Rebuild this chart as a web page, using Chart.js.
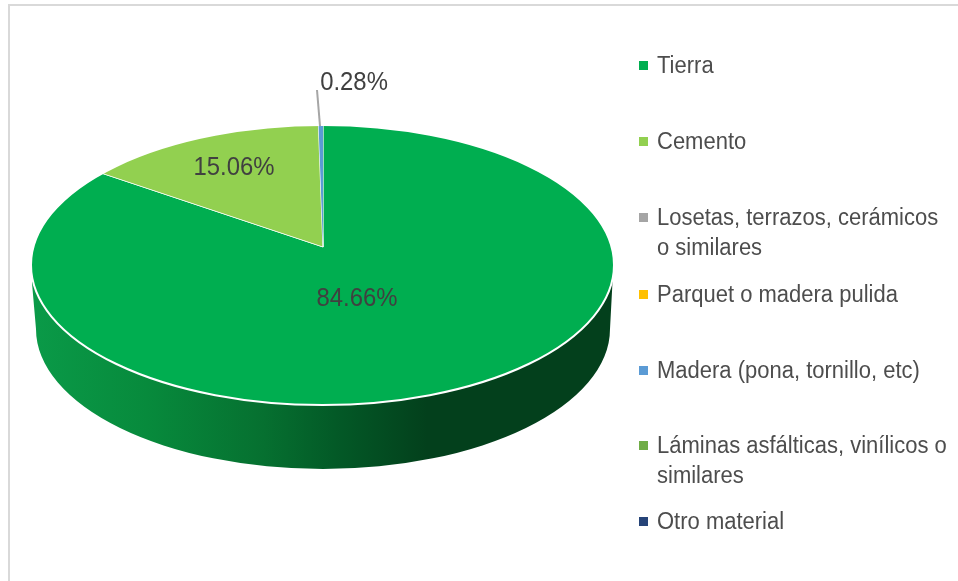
<!DOCTYPE html>
<html>
<head>
<meta charset="utf-8">
<script src="https://cdn.jsdelivr.net/npm/chart.js@4"></script>
<style>
  html, body { margin: 0; padding: 0; background: #fff; overflow: hidden; }
  #page { position: relative; width: 958px; height: 581px; filter: blur(0.4px); }
  #frameTop { position: absolute; left: 8px; right: 0; top: 4px; height: 2px; background: #d9d9d9; }
  #frameLeft { position: absolute; left: 8px; top: 4px; bottom: 0; width: 2px; background: #d9d9d9; }
  #pieChart { position: absolute; left: 0; top: 0; }
  .item { position: absolute; left: 657px; font: 23.5px/30px "Liberation Sans", Arial, sans-serif; color: #4d4d4d; }
  .item .txt { display: block; width: 312px; transform: scaleX(0.936); transform-origin: 0 0; }
  .swatch { position: absolute; left: -18px; top: 11px; width: 9px; height: 9px; }
</style>
</head>
<body>
<div id="page">
  <div id="frameTop"></div>
  <div id="frameLeft"></div>
  <canvas id="pieChart" width="958" height="581"></canvas>
  <div id="legend"></div>
</div>
<script>
const categories = ["Tierra", "Cemento", "Losetas, terrazos, cerámicos o similares", "Parquet o madera pulida", "Madera (pona, tornillo, etc)", "Láminas asfálticas, vinílicos o similares", "Otro material"];
const percents = [84.66, 15.06, 0, 0, 0.28, 0, 0];
const sliceColors = ["#00ae50", "#92d050", "#a5a5a5", "#ffc000", "#5b9bd5", "#70ad47", "#264478"];

// top of each legend entry, the original spacing is not regular
const legendTops = [50, 126, 202, 279, 355, 430, 506];
// where the percent labels sit: Tierra, Cemento, Madera
const labelSpots = { 0: [357, 299], 1: [234, 168], 4: [354, 83] };

// the disc is an ellipse and the slices meet above its centre
const disc = { x: 322.5, y: 265, rx: 291.5, ry: 140 };
const tip = { x: 323, y: 247 };
const squash = { x: 1.2, y: 0.576 };
const rim = { x: 323, y: 329, rx: 287, ry: 140 };

const legendBox = document.getElementById('legend');
categories.forEach((name, i) => {
  let item = document.createElement('div');
  item.className = 'item';
  item.style.top = legendTops[i] + 'px';
  item.innerHTML = `<span class="swatch" style="background:${sliceColors[i]}"></span><span class="txt">${name}</span>`;
  legendBox.appendChild(item);
});

const tiltPlugin = {
  id: 'tilt',
  beforeDatasetsDraw(chart) {
    const ctx = chart.ctx;
    const first = chart.getDatasetMeta(0).data[0];

    // side wall
    let wall = ctx.createLinearGradient(disc.x - disc.rx, 0, disc.x + disc.rx, 0);
    wall.addColorStop(0, '#0a9a48');
    wall.addColorStop(0.2, '#078a3c');
    wall.addColorStop(0.4, '#067030');
    wall.addColorStop(0.52, '#035a27');
    wall.addColorStop(0.68, '#03401c');
    wall.addColorStop(1, '#03401c');
    ctx.save();
    ctx.beginPath();
    ctx.ellipse(rim.x, rim.y, rim.rx, rim.ry, 0, 0, Math.PI);
    ctx.lineTo(disc.x - disc.rx + 1, disc.y + 18);
    ctx.ellipse(disc.x, disc.y, disc.rx, disc.ry, 0, Math.PI * 0.97, Math.PI * 0.03, true);
    ctx.closePath();
    ctx.fillStyle = wall;
    ctx.fill();
    ctx.restore();

    // slices are drawn squashed and cut to the disc
    ctx.save();
    ctx.beginPath();
    ctx.ellipse(disc.x, disc.y, disc.rx, disc.ry, 0, 0, Math.PI * 2);
    ctx.clip();
    ctx.translate(tip.x, tip.y);
    ctx.scale(squash.x, squash.y);
    ctx.translate(-first.x, -first.y);
  },
  afterDatasetsDraw(chart) {
    const ctx = chart.ctx;
    ctx.restore();

    ctx.beginPath();
    ctx.ellipse(disc.x, disc.y, disc.rx, disc.ry, 0, 0, Math.PI * 2);
    ctx.strokeStyle = '#ffffff';
    ctx.lineWidth = 2;
    ctx.stroke();

    // leader of the small slice
    ctx.beginPath();
    ctx.moveTo(317, 90);
    ctx.lineTo(320, 126);
    ctx.strokeStyle = '#a6a6a6';
    ctx.lineWidth = 2;
    ctx.stroke();

    ctx.font = '25.5px "Liberation Sans", Arial, sans-serif';
    ctx.fillStyle = '#404040';
    ctx.textAlign = 'center';
    ctx.textBaseline = 'middle';
    percents.forEach((v, i) => {
      if (v > 0) {
        ctx.save();
        ctx.translate(labelSpots[i][0], labelSpots[i][1]);
        ctx.scale(0.937, 1);
        ctx.fillText(v.toFixed(2) + '%', 0, 0);
        ctx.restore();
      }
    });
  }
};

let pieChart = new Chart(document.getElementById('pieChart'), {
  type: 'pie',
  data: {
    labels: categories,
    datasets: [{
      data: percents,
      backgroundColor: sliceColors,
      borderColor: '#ffffff',
      borderWidth: (c) => (c.raw > 1 ? 1 : 0),
      clip: false
    }]
  },
  options: {
    responsive: false,
    animation: false,
    events: [],
    plugins: {
      legend: { display: false },
      tooltip: { enabled: false }
    }
  },
  plugins: [tiltPlugin]
});
</script>
</body>
</html>
